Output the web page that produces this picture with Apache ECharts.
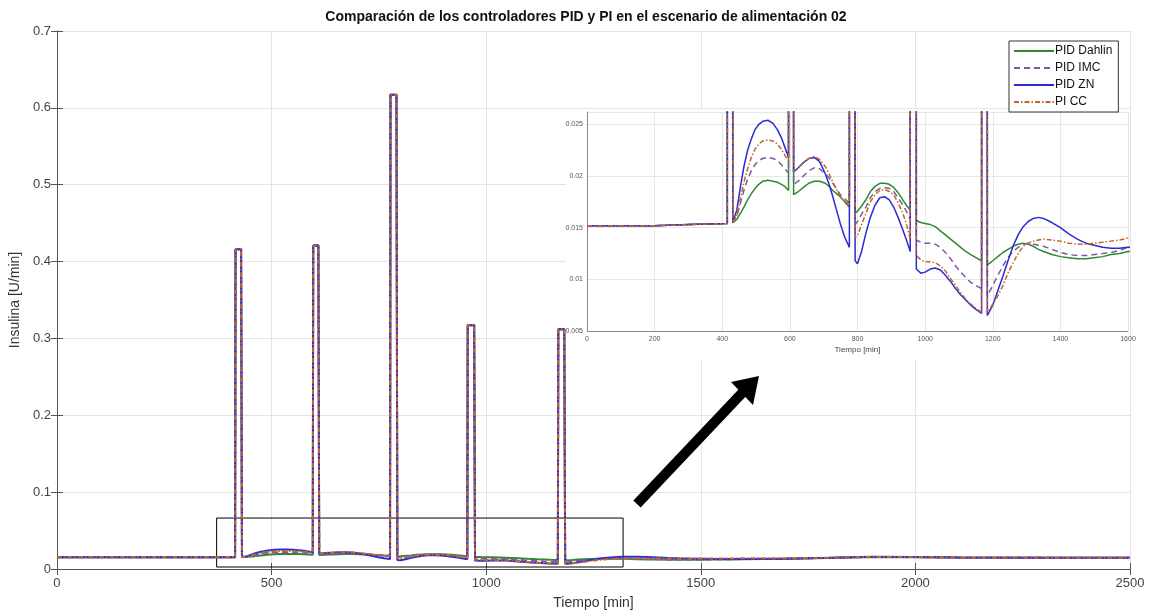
<!DOCTYPE html>
<html>
<head>
<meta charset="utf-8">
<script src="https://cdn.jsdelivr.net/npm/echarts@6/dist/echarts.min.js"></script>
<style>
html,body{margin:0;padding:0;background:#fff;}
#chart{width:1154px;height:615px;}
</style>
</head>
<body>
<div id="chart"></div>
<script>
// ---- data ----
// rows: baseline+spike1 | segment 1 | spike 2 | segment 2 | spike 3 | segment 3 | spike 4 | segment 4 | spike 5 | segment 5 | tail
const tiempo = [
  0, 100, 200, 300, 415, 416, 429,
  431, 443, 454, 464, 475, 486, 497, 508, 520, 535, 550, 563, 575, 585, 596,
  597, 609,
  611, 625, 640, 656, 672, 688, 705, 716, 727, 738, 749, 762, 776,
  777, 791,
  793, 800, 812, 825, 838, 852, 866, 880, 894, 907, 920, 934, 946, 956,
  957, 972,
  974, 987, 1000, 1015, 1030, 1045, 1060, 1075, 1090, 1105, 1120, 1135, 1150, 1167,
  1168, 1182,
  1184, 1200, 1215, 1230, 1245, 1260, 1275, 1290, 1305, 1320, 1335, 1350, 1375, 1400, 1425, 1450, 1475, 1500, 1525, 1550, 1575, 1600,
  1700, 1800, 1900, 2000, 2100, 2300, 2500];

const pidDahlin = [
  0.0152, 0.0152, 0.0152, 0.0153, 0.0154, 0.416, 0.416,
  0.0155, 0.0158, 0.0164, 0.0170, 0.0177, 0.0183, 0.0188, 0.0192, 0.0195, 0.0196, 0.0195, 0.0194, 0.0192, 0.0190, 0.0186,
  0.421, 0.421,
  0.0182, 0.0185, 0.0189, 0.0193, 0.0195, 0.0195, 0.0193, 0.0190, 0.0186, 0.0183, 0.0180, 0.0175, 0.0170,
  0.617, 0.617,
  0.0164, 0.0166, 0.0171, 0.0177, 0.0185, 0.0190, 0.0193, 0.0193, 0.0192, 0.0189, 0.0184, 0.0177, 0.0171, 0.0167,
  0.317, 0.317,
  0.0157, 0.0155, 0.0154, 0.0153, 0.0151, 0.0147, 0.0143, 0.0139, 0.0135, 0.0131, 0.0127, 0.0124, 0.0121, 0.0118,
  0.312, 0.312,
  0.0114, 0.0118, 0.0122, 0.0126, 0.0129, 0.0132, 0.0134, 0.0135, 0.0134, 0.0132, 0.0129, 0.0127, 0.0124, 0.0122, 0.0121, 0.0120, 0.0120, 0.0121, 0.0122, 0.0124, 0.0125, 0.0127,
  0.0132, 0.0142, 0.0155, 0.0154, 0.0150, 0.0148, 0.0148];

const pidIMC = [
  0.0152, 0.0152, 0.0152, 0.0153, 0.0154, 0.416, 0.416,
  0.0155, 0.0161, 0.0174, 0.0186, 0.0197, 0.0205, 0.0211, 0.0215, 0.0217, 0.0218, 0.0217, 0.0215, 0.0211, 0.0207, 0.0203,
  0.421, 0.421,
  0.0192, 0.0195, 0.0200, 0.0205, 0.0208, 0.0207, 0.0202, 0.0198, 0.0193, 0.0188, 0.0182, 0.0178, 0.0174,
  0.617, 0.617,
  0.0153, 0.0156, 0.0163, 0.0170, 0.0179, 0.0185, 0.0188, 0.0189, 0.0188, 0.0185, 0.0179, 0.0172, 0.0165, 0.0158,
  0.317, 0.317,
  0.0138, 0.0136, 0.0135, 0.0135, 0.0134, 0.0131, 0.0126, 0.0120, 0.0113, 0.0107, 0.0102, 0.0097, 0.0094, 0.0091,
  0.312, 0.312,
  0.0084, 0.0094, 0.0104, 0.0113, 0.0121, 0.0127, 0.0131, 0.0134, 0.0135, 0.0134, 0.0133, 0.0132, 0.0129, 0.0126, 0.0124, 0.0123, 0.0123, 0.0124, 0.0125, 0.0126, 0.0128, 0.0131,
  0.0136, 0.0145, 0.0156, 0.0155, 0.0150, 0.0148, 0.0148];

const pidZN = [
  0.0152, 0.0152, 0.0152, 0.0153, 0.0154, 0.416, 0.416,
  0.0155, 0.0167, 0.0190, 0.0209, 0.0225, 0.0236, 0.0245, 0.0250, 0.0253, 0.0254, 0.0251, 0.0245, 0.0237, 0.0228, 0.0218,
  0.421, 0.421,
  0.0204, 0.0208, 0.0213, 0.0217, 0.0218, 0.0214, 0.0202, 0.0192, 0.0180, 0.0167, 0.0154, 0.0141, 0.0131,
  0.617, 0.617,
  0.0118, 0.0115, 0.0127, 0.0145, 0.0160, 0.0172, 0.0179, 0.0180, 0.0177, 0.0170, 0.0160, 0.0148, 0.0137, 0.0127,
  0.317, 0.317,
  0.0110, 0.0106, 0.0107, 0.0110, 0.0111, 0.0109, 0.0104, 0.0098, 0.0091, 0.0085, 0.0080, 0.0075, 0.0071, 0.0067,
  0.312, 0.312,
  0.0065, 0.0075, 0.0089, 0.0103, 0.0118, 0.0132, 0.0143, 0.0151, 0.0156, 0.0159, 0.0160, 0.0159, 0.0155, 0.0150, 0.0144, 0.0139, 0.0135, 0.0133, 0.0131, 0.0130, 0.0130, 0.0131,
  0.0134, 0.0146, 0.0160, 0.0157, 0.0151, 0.0148, 0.0148];

const piCC = [
  0.0152, 0.0152, 0.0152, 0.0153, 0.0154, 0.416, 0.416,
  0.0155, 0.0162, 0.0179, 0.0194, 0.0207, 0.0218, 0.0226, 0.0231, 0.0234, 0.0235, 0.0234, 0.0231, 0.0226, 0.0220, 0.0215,
  0.421, 0.421,
  0.0204, 0.0208, 0.0213, 0.0217, 0.0219, 0.0216, 0.0209, 0.0202, 0.0194, 0.0187, 0.0180, 0.0176, 0.0172,
  0.617, 0.617,
  0.0141, 0.0142, 0.0153, 0.0164, 0.0175, 0.0182, 0.0186, 0.0187, 0.0185, 0.0182, 0.0174, 0.0164, 0.0152, 0.0139,
  0.317, 0.317,
  0.0123, 0.0119, 0.0117, 0.0117, 0.0116, 0.0113, 0.0108, 0.0101, 0.0094, 0.0087, 0.0081, 0.0076, 0.0072, 0.0068,
  0.312, 0.312,
  0.0068, 0.0076, 0.0084, 0.0094, 0.0106, 0.0116, 0.0125, 0.0132, 0.0135, 0.0137, 0.0138, 0.0139, 0.0138, 0.0137, 0.0135, 0.0134, 0.0134, 0.0135, 0.0136, 0.0137, 0.0138, 0.0140,
  0.0140, 0.0147, 0.0157, 0.0155, 0.0150, 0.0148, 0.0148];

const nombres = ['PID Dahlin', 'PID IMC', 'PID ZN', 'PI CC'];
// zoom rectangle drawn on main axes (data coordinates)
const zonaAmpliada = [[372, 0.0663], [1319, 0.0026]];

// ---- styles ----
const FONT = '"Liberation Sans", Arial, Helvetica, sans-serif';
const estilos = [
  { color: '#2f8a2f', type: 'solid' },
  { color: '#7f5aa3', type: [6, 4] },
  { color: '#2b2bd6', type: 'solid' },
  { color: '#c4652c', type: [5, 2, 1.5, 2] }
];
const valores = [pidDahlin, pidIMC, pidZN, piCC];
const pares = arr => tiempo.map((t, i) => [t, arr[i]]);

const series = [];
valores.forEach((arr, k) => {
  const s = {
    name: nombres[k], type: 'line', xAxisIndex: 0, yAxisIndex: 0,
    data: pares(arr), symbol: 'none', smooth: false, z: 2,
    lineStyle: { color: estilos[k].color, type: estilos[k].type, width: 2 },
    itemStyle: { color: estilos[k].color }
  };
  if (k === 0) {
    s.markArea = {
      silent: true,
      itemStyle: { color: 'rgba(0,0,0,0)', borderColor: '#000', borderWidth: 1 },
      data: [[{ coord: zonaAmpliada[0] }, { coord: zonaAmpliada[1] }]]
    };
  }
  series.push(s);
});
valores.forEach((arr, k) => {
  series.push({
    name: nombres[k], type: 'line', xAxisIndex: 2, yAxisIndex: 2,
    data: pares(arr), symbol: 'none', smooth: false, clip: true, z: 6,
    lineStyle: { color: estilos[k].color, type: estilos[k].type, width: 1.5 },
    itemStyle: { color: estilos[k].color }
  });
});

const gris = '#555';
const ejeTxt = { color: '#444', fontFamily: FONT, fontSize: 13 };

const option = {
  animation: false,
  backgroundColor: '#fff',
  title: {
    text: 'Comparación de los controladores PID y PI en el escenario de alimentación 02',
    left: 581, top: 5, textAlign: 'center',
    textStyle: { fontFamily: FONT, fontSize: 14, fontWeight: 'bold', color: '#111' }
  },
  legend: {
    data: nombres, orient: 'vertical', left: 1009, top: 41,
    itemWidth: 40, itemHeight: 12, itemGap: 5,
    padding: [4, 6, 4, 4],
    borderColor: '#333', borderWidth: 1, backgroundColor: '#fff',
    itemStyle: { opacity: 0 },
    textStyle: { fontFamily: FONT, fontSize: 12, color: '#111', padding: [0, 0, 0, -4] },
    z: 20
  },
  grid: [
    { left: 55, right: 24, top: 31, bottom: 46, show: false },
    { left: 587, right: 26, top: 112, bottom: 284, show: false }
  ],
  xAxis: [
    { type: 'value', gridIndex: 0, min: 0, max: 2500, interval: 500, position: 'bottom',
      name: 'Tiempo [min]', nameLocation: 'middle', nameGap: 27,
      nameTextStyle: { fontFamily: FONT, fontSize: 14, color: '#333' },
      axisLine: { show: true, lineStyle: { color: gris } },
      axisTick: { inside: true, length: 6, lineStyle: { color: gris } },
      axisLabel: Object.assign({ margin: 8, formatter: v => String(v) }, ejeTxt),
      splitLine: { show: true, lineStyle: { color: '#e3e3e3' } } },
    { type: 'value', gridIndex: 0, min: 0, max: 2500, interval: 500, position: 'top',
      axisLine: { show: true, lineStyle: { color: gris } },
      axisTick: { inside: true, length: 6, lineStyle: { color: gris } },
      axisLabel: { show: false }, splitLine: { show: false } },
    { type: 'value', gridIndex: 1, min: 0, max: 1600, interval: 200, z: 5,
      name: 'Tiempo [min]', nameLocation: 'middle', nameGap: 15,
      nameTextStyle: { fontFamily: FONT, fontSize: 8, color: '#444' },
      axisLine: { show: true, lineStyle: { color: '#888' } },
      axisTick: { show: false },
      axisLabel: { fontFamily: FONT, fontSize: 7, color: '#555', margin: 5, formatter: v => String(v) },
      splitLine: { show: true, lineStyle: { color: '#e6e6e6' } } }
  ],
  yAxis: [
    { type: 'value', gridIndex: 0, min: 0, max: 0.7, interval: 0.1, position: 'left',
      name: 'Insulina [U/min]', nameLocation: 'middle', nameGap: 32,
      nameTextStyle: { fontFamily: FONT, fontSize: 14, color: '#333' },
      axisLine: { show: true, lineStyle: { color: gris } },
      axisTick: { inside: true, length: 6, lineStyle: { color: gris } },
      axisLabel: Object.assign({ margin: 6, formatter: v => String(+v.toFixed(2)) }, ejeTxt),
      splitLine: { show: true, lineStyle: { color: '#e3e3e3' } } },
    { type: 'value', gridIndex: 0, min: 0, max: 0.7, interval: 0.1, position: 'right',
      axisLine: { show: true, lineStyle: { color: gris } },
      axisTick: { inside: true, length: 6, lineStyle: { color: gris } },
      axisLabel: { show: false }, splitLine: { show: false } },
    { type: 'value', gridIndex: 1, min: 0.005, max: 0.0262, interval: 0.005, z: 5,
      axisLine: { show: true, lineStyle: { color: '#888' } },
      axisTick: { show: false },
      axisLabel: { fontFamily: FONT, fontSize: 7, color: '#555', margin: 4, showMaxLabel: false,
        formatter: v => String(+v.toFixed(3)) },
      splitLine: { show: true, lineStyle: { color: '#e6e6e6' } } }
  ],
  graphic: [
    { type: 'rect', z: 3, silent: true,
      shape: { x: 566, y: 110, width: 564, height: 250 },
      style: { fill: '#fff' } },
    { type: 'line', z: 10, silent: true,
      shape: { x1: 637, y1: 504, x2: 744, y2: 391 },
      style: { stroke: '#000', lineWidth: 10 } },
    { type: 'polygon', z: 10, silent: true,
      shape: { points: [[759, 376], [731, 382], [753, 405]] },
      style: { fill: '#000' } }
  ],
  series: series
};

const chart = echarts.init(document.getElementById('chart'), null, { renderer: 'canvas' });
chart.setOption(option);
</script>
</body>
</html>
